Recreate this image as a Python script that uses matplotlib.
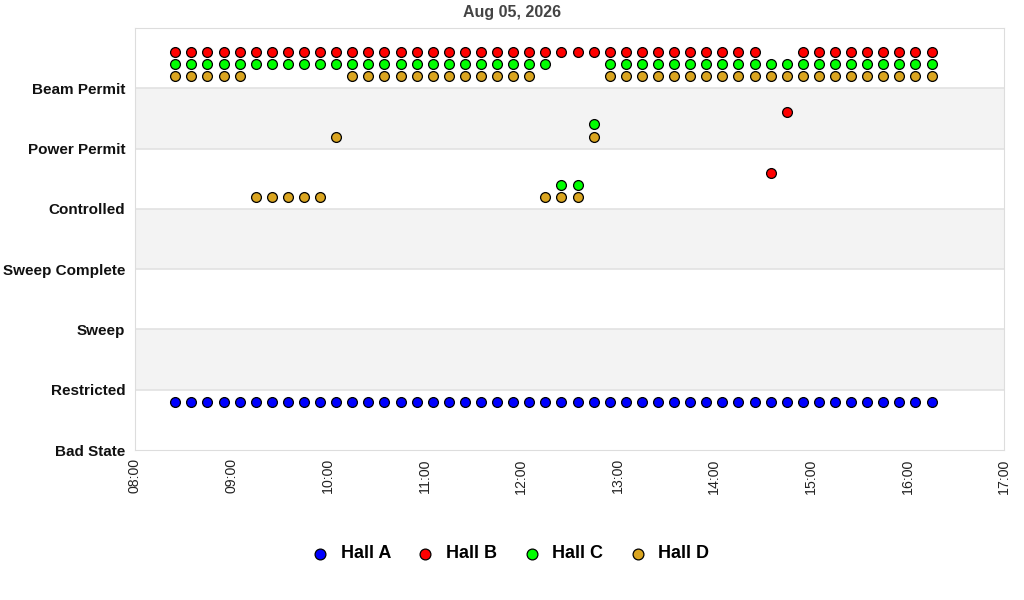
import matplotlib
matplotlib.use("Agg")
import matplotlib.pyplot as plt
import matplotlib.dates as mdates
from datetime import datetime

plt.rcParams['font.family'] = ['Liberation Sans', 'DejaVu Sans']

state_names = ["Bad State", "Restricted", "Sweep", "Sweep Complete",
               "Controlled", "Power Permit", "Beam Permit"]

times = ["08:25", "08:35", "08:45", "08:55", "09:05", "09:15", "09:25", "09:35",
         "09:45", "09:55", "10:05", "10:15", "10:25", "10:35", "10:45", "10:55",
         "11:05", "11:15", "11:25", "11:35", "11:45", "11:55", "12:05", "12:15",
         "12:25", "12:35", "12:45", "12:55", "13:05", "13:15", "13:25", "13:35",
         "13:45", "13:55", "14:05", "14:15", "14:25", "14:35", "14:45", "14:55",
         "15:05", "15:15", "15:25", "15:35", "15:45", "15:55", "16:05", "16:15"]

# state index per sample (index into state_names)
hall_a = [0, 0, 0, 0, 0, 0, 0, 0, 0, 0, 0, 0, 0, 0, 0, 0,
          0, 0, 0, 0, 0, 0, 0, 0, 0, 0, 0, 0, 0, 0, 0, 0,
          0, 0, 0, 0, 0, 0, 0, 0, 0, 0, 0, 0, 0, 0, 0, 0]
hall_b = [6, 6, 6, 6, 6, 6, 6, 6, 6, 6, 6, 6, 6, 6, 6, 6,
          6, 6, 6, 6, 6, 6, 6, 6, 6, 6, 6, 6, 6, 6, 6, 6,
          6, 6, 6, 6, 6, 4, 5, 6, 6, 6, 6, 6, 6, 6, 6, 6]
hall_c = [6, 6, 6, 6, 6, 6, 6, 6, 6, 6, 6, 6, 6, 6, 6, 6,
          6, 6, 6, 6, 6, 6, 6, 6, 4, 4, 5, 6, 6, 6, 6, 6,
          6, 6, 6, 6, 6, 6, 6, 6, 6, 6, 6, 6, 6, 6, 6, 6]
hall_d = [6, 6, 6, 6, 6, 4, 4, 4, 4, 4, 5, 6, 6, 6, 6, 6,
          6, 6, 6, 6, 6, 6, 6, 4, 4, 4, 5, 6, 6, 6, 6, 6,
          6, 6, 6, 6, 6, 6, 6, 6, 6, 6, 6, 6, 6, 6, 6, 6]

halls = ["Hall A", "Hall B", "Hall C", "Hall D"]
colors = ["#0000ff", "#ff0000", "#00ff00", "#daa520"]
offsets = [0.8, 0.6, 0.4, 0.2]
series = [hall_a, hall_b, hall_c, hall_d]

x = [datetime.strptime("2026-08-05 " + t, "%Y-%m-%d %H:%M") for t in times]

fig, ax = plt.subplots(figsize=(10.24, 6.0), dpi=100)
fig.subplots_adjust(left=135/1024, right=1004/1024, top=1-28/600, bottom=1-450/600)

# alternating bands
for i in range(len(state_names)):
    if i % 2 == 1:
        ax.axhspan(i, i + 1, color="#f3f3f3", zorder=0, lw=0)
for i in range(1, len(state_names) + 1):
    ax.axhline(i, color="#e2e2e2", lw=1.2, zorder=1)

for name, vals, col, off in zip(halls, series, colors, offsets):
    ax.scatter(x, [v + off for v in vals], s=50, color=col, edgecolor="black",
               linewidth=0.9, zorder=3, label=name)

ax.set_ylim(0, 7)
ax.set_yticks(range(len(state_names)))
ax.set_yticklabels(state_names, fontsize=11.0, fontweight="bold", color="#111111")
ax.set_xlim(datetime(2026, 8, 5, 8, 0), datetime(2026, 8, 5, 17, 0))
ax.xaxis.set_major_locator(mdates.HourLocator())
ax.xaxis.set_major_formatter(mdates.DateFormatter("%H:%M"))
ax.tick_params(axis='x', rotation=90, labelsize=10.2, length=0, pad=6, labelcolor="#222222")
ax.tick_params(axis='y', length=0, pad=7)
for sp in ax.spines.values():
    sp.set_color("#dddddd")

fig.suptitle("Aug 05, 2026", x=0.5, y=1 - 12/600, va="center",
             fontsize=11.5, fontweight="bold", color="#444444")

fig.legend(loc="center", bbox_to_anchor=(0.5, 1 - 554/600), ncol=4, frameon=False,
           prop={'size': 13, 'weight': 'bold'}, handlelength=0.6, handletextpad=0.85,
           columnspacing=1.6, scatterpoints=1, markerscale=1.1)

fig.savefig("out.png", dpi=100)
